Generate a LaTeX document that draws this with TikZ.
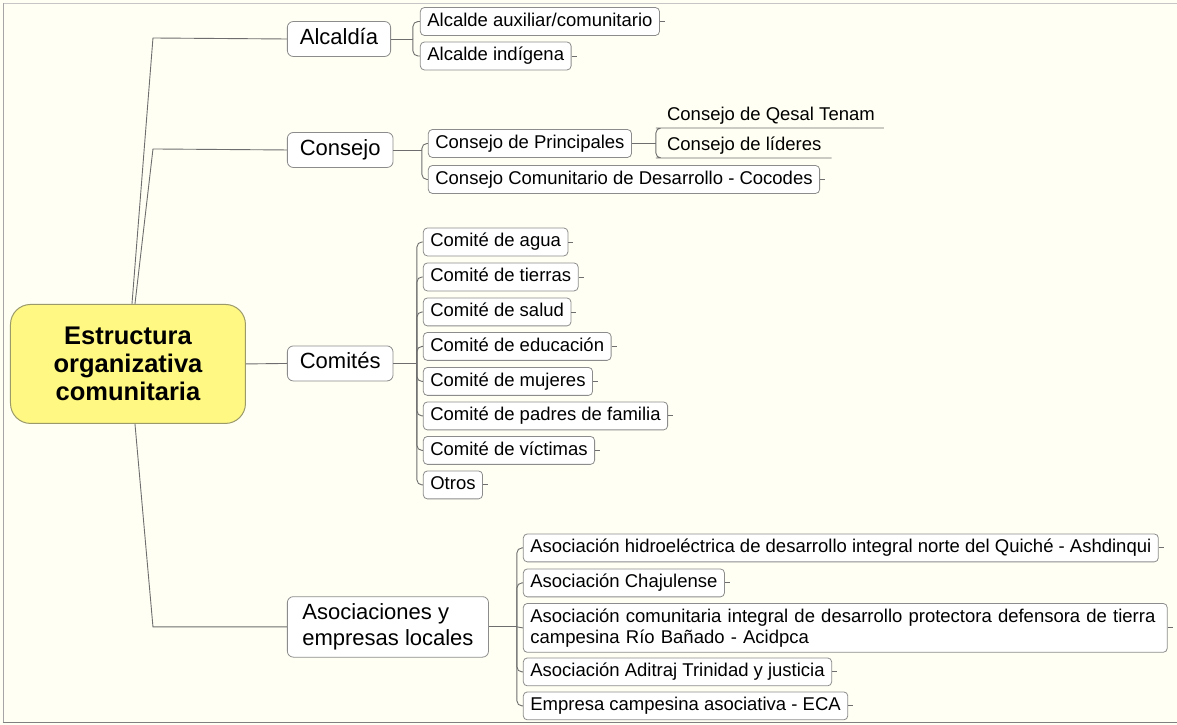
\documentclass[tikz,border=0pt]{standalone}
\usepackage{fontspec}
\setmainfont{Liberation Sans}

\definecolor{bgcream}{HTML}{FFFFF3}
\definecolor{linegray}{HTML}{6E6E6E}
\definecolor{boxgray}{HTML}{8C8C8C}
\definecolor{rootfill}{HTML}{FFF882}
\definecolor{rootedge}{HTML}{9A9A6A}

\begin{document}
\begin{tikzpicture}[x=1pt,y=-1pt,
    link/.style={draw=linegray, line width=0.9pt},
    fork/.style={link, rounded corners=5pt},
    leaf/.style={draw=boxgray, fill=white, rounded corners=4pt, line width=0.8pt,
      anchor=west, font=\fontsize{18.5}{21}\selectfont,
      text height=13.5pt, text depth=4pt, inner xsep=7pt, inner ysep=5.2pt},
    topic/.style={draw=boxgray, fill=white, rounded corners=6pt, line width=0.8pt,
      anchor=west, font=\fontsize{22}{26}\selectfont,
      text height=16pt, text depth=5pt, inner xsep=12.5pt, inner ysep=7pt},
    plain/.style={anchor=south west, font=\fontsize{18.5}{21}\selectfont,
      text height=13.5pt, text depth=4pt, inner xsep=6pt, inner ysep=3pt},
    rootbox/.style={draw=rootedge, fill=rootfill, rounded corners=20pt, line width=1pt,
      align=center, minimum width=235pt, minimum height=119pt,
      font=\fontsize{25.5}{28}\selectfont\bfseries}]
        % background and frame
        \fill [bgcream] (0,0) rectangle (1177,725);
        \draw [gray!45] (3,3) -- (1177,3);
        \draw [gray!70] (3,3) -- (3,722);
        \draw [gray] (3,722) -- (1177,722);

        % central topic and main branches
        \node [rootbox] (root) at (128,364) {Estructura\\organizativa\\comunitaria};
        \node [topic] (alcaldia) at (287,39) {Alcaldía};
        \node [topic] (consejo) at (287,150) {Consejo};
        \node [topic] (comites) at (287,363.5) {Comités};
        \node [topic, align=left, text height=, text depth=, inner xsep=15pt,
               minimum height=60pt] (asoc) at (287,627) {Asociaciones y\\empresas locales};

        \coordinate (kA) at (153,38);
        \coordinate (kC) at (153,149);
        \coordinate (kS) at (153,627);
        \draw [link] ([xshift=4pt]root.north) -- (kA) -- (alcaldia.west);
        \draw [link] ([xshift=7pt]root.north) -- (kC) -- (consejo.west);
        \draw [link] (root.east) -- (comites.west);
        \draw [link] ([xshift=7pt]root.south) -- (kS) -- (asoc.west);

        % Alcaldia
        \coordinate (jA) at (413,39);
        \draw [link] (alcaldia.east) -- (jA);
        \node [leaf] (aux) at (420,21.5) {Alcalde auxiliar/comunitario};
        \node [leaf] (indig) at (420,56) {Alcalde indígena};
        \foreach \n in {aux,indig} {
            \draw [fork] (jA) |- (\n.west);
            \draw [link] (\n.east) -- ++(5,0);
        }

        % Consejo
        \coordinate (jB) at (422,150);
        \draw [link] (consejo.east) -- (jB);
        \node [leaf] (princ) at (428,143.5) {Consejo de Principales};
        \node [leaf] (cocodes) at (428,179.5) {Consejo Comunitario de Desarrollo - Cocodes};
        \draw [fork] (jB) |- (princ.west);
        \draw [fork] (jB) |- (cocodes.west);
        \draw [link] (cocodes.east) -- ++(5,0);

        \coordinate (jP) at (656,143.5);
        \draw [link] (princ.east) -- (jP);
        \node [plain] (qesal) at (661,128) {Consejo de Qesal Tenam};
        \node [plain] (lideres) at (661,158) {Consejo de líderes};
        \draw [fork] (jP) |- (qesal.south west) -- ([xshift=3pt]qesal.south east);
        \draw [fork] (jP) |- (lideres.south west) -- ([xshift=4pt]lideres.south east);

        % Comites
        \coordinate (jM) at (417,363.5);
        \draw [link] (comites.east) -- (jM);
        \foreach \n/\y/\t in {agua/242/Comité de agua, tierras/277/Comité de tierras,
                salud/312/Comité de salud, educ/346.5/Comité de educación,
                mujeres/381.5/Comité de mujeres, padres/416/Comité de padres de familia,
                victimas/450.5/Comité de víctimas, otros/485/Otros} {
            \node [leaf] (\n) at (423,\y) {\t};
            \draw [fork] (jM) |- (\n.west);
            \draw [link] (\n.east) -- ++(5,0);
        }

        % Asociaciones
        \coordinate (jS) at (517,627);
        \draw [link] (asoc.east) -- (jS);
        \foreach \n/\y/\t in {ashd/548/Asociación hidroeléctrica de desarrollo integral norte del Quiché - Ashdinqui,
                chaj/583/Asociación Chajulense,
                aditraj/672/Asociación Aditraj Trinidad y justicia,
                eca/706/Empresa campesina asociativa - ECA} {
            \node [leaf] (\n) at (523,\y) {\t};
            \draw [fork] (jS) |- (\n.west);
            \draw [link] (\n.east) -- ++(5,0);
        }
        \node [leaf, align=left, text height=, text depth=, minimum height=48pt,
               text width=630pt] (acid) at (523,628)
            {Asociación comunitaria integral de desarrollo protectora defensora de tierra\\campesina Río Bañado - Acidpca};
        \draw [link] (jS) -- (acid.west);
        \draw [link] (acid.east) -- ++(5,0);
    \end{tikzpicture}
\end{document}
